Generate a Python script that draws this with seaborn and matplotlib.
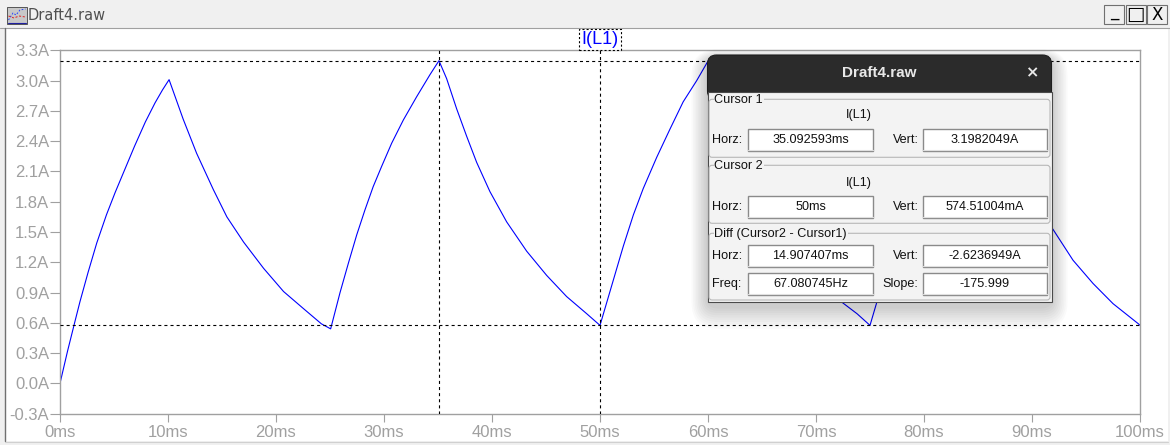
import matplotlib
matplotlib.use("Agg")
import matplotlib.pyplot as plt
import seaborn as sns
from matplotlib.patches import Rectangle, FancyBboxPatch
from matplotlib.lines import Line2D
from matplotlib.transforms import Affine2D

# ---------------- data ----------------
time_ms = [
    0.0, 0.7, 1.4, 1.85, 2.6, 3.4, 4.3, 5.1, 6.0, 6.9, 7.9, 8.8, 9.5, 10.1,
    11.4, 12.65, 14.2, 15.45, 17.0, 18.85, 20.7, 22.55, 24.2, 25.06,
    25.93, 26.7, 27.47, 28.24, 29.0, 29.78, 30.71, 31.79, 33.02, 34.26, 35.09,
    35.8, 36.73, 37.65, 38.58, 39.81, 41.36, 43.21, 45.06, 46.91, 48.77, 50.0,
    50.62, 51.39, 52.16, 53.09, 54.0, 55.25, 56.48, 57.7, 58.95, 60.03,
    60.8, 61.7, 62.6, 63.6, 64.8, 66.4, 68.2, 70.1, 72.2, 73.8, 75.0,
    75.62, 76.39, 77.16, 78.09, 79.0, 80.25, 81.48, 82.7, 83.95, 85.03,
    85.8, 86.7, 87.6, 88.6, 89.8, 91.8, 93.8, 95.65, 97.5, 99.85, 100.0,
]
current_A = [
    0.0, 0.32, 0.62, 0.81, 1.10, 1.39, 1.67, 1.89, 2.12, 2.35, 2.59, 2.78, 2.91, 3.01,
    2.62, 2.28, 1.92, 1.65, 1.40, 1.14, 0.91, 0.74, 0.59, 0.54,
    0.90, 1.19, 1.47, 1.72, 1.95, 2.15, 2.38, 2.61, 2.84, 3.06, 3.198,
    3.02, 2.72, 2.45, 2.19, 1.90, 1.60, 1.31, 1.07, 0.86, 0.69, 0.5745,
    0.80, 1.08, 1.36, 1.67, 1.93, 2.24, 2.52, 2.79, 3.00, 3.20,
    3.02, 2.72, 2.45, 2.19, 1.90, 1.60, 1.31, 1.07, 0.82, 0.69, 0.5745,
    0.80, 1.08, 1.36, 1.67, 1.93, 2.24, 2.52, 2.79, 3.00, 3.20,
    3.02, 2.72, 2.45, 2.19, 1.90, 1.55, 1.22, 0.99, 0.79, 0.59, 0.575,
]

x_ticks = [0, 10, 20, 30, 40, 50, 60, 70, 80, 90, 100]
x_tick_labels = ["0ms", "10ms", "20ms", "30ms", "40ms", "50ms", "60ms",
                 "70ms", "80ms", "90ms", "100ms"]
y_ticks = [-0.3, 0.0, 0.3, 0.6, 0.9, 1.2, 1.5, 1.8, 2.1, 2.4, 2.7, 3.0, 3.3]
y_tick_labels = ["-0.3A", "0.0A", "0.3A", "0.6A", "0.9A", "1.2A", "1.5A",
                 "1.8A", "2.1A", "2.4A", "2.7A", "3.0A", "3.3A"]

trace_name = "I(L1)"
window_title = "Draft4.raw"
cursor1_ms = 35.092593
cursor1_A = 3.1982049
cursor2_ms = 50.0
cursor2_A = 0.57451004
cursor1_text = ("35.092593ms", "3.1982049A")
cursor2_text = ("50ms", "574.51004mA")
diff_text = ("14.907407ms", "-2.6236949A")
freq_slope_text = ("67.080745Hz", "-175.999")

# ---------------- figure ----------------
W, H = 1170, 445
sns.set_style("white")
plt.rcParams["lines.scale_dashes"] = False
plt.rcParams["font.family"] = ["Liberation Sans", "DejaVu Sans"]

fig = plt.figure(figsize=(W / 100, H / 100), dpi=100)
fig.patch.set_facecolor("#f0f0f0")
PX = Affine2D().scale(1 / W, -1 / H).translate(0, 1) + fig.transFigure


def rect(x, y, w, h, z=0, **kw):
    p = Rectangle((x, y), w, h, transform=PX, zorder=z, **kw)
    fig.add_artist(p)
    return p


def rrect(x, y, w, h, r, z=0, **kw):
    p = FancyBboxPatch((x, y), w, h, boxstyle=f"round,pad=0,rounding_size={r}",
                       transform=PX, zorder=z, **kw)
    fig.add_artist(p)
    return p


def line(xs, ys, z=0, **kw):
    l = Line2D(xs, ys, transform=PX, zorder=z, **kw)
    fig.add_artist(l)
    return l


def txt(x, y, s, z=0, **kw):
    kw.setdefault("va", "center")
    return fig.text(x, y, s, transform=PX, zorder=z, **kw)


# window chrome
rect(0, 0, W, 27.5, z=-5, facecolor="#f0f0f0", edgecolor="none")
line([0, W], [27.5, 27.5], z=-4, color="#a0a0a0", lw=0.8)
rect(5, 28, 1163, 413, z=-5, facecolor="white", edgecolor="none")
line([4.7, 4.7], [28, 441], z=-4, color="#707070", lw=1.0)
line([5, 1168], [441.5, 441.5], z=-4, color="#d0d0d0", lw=0.8)
# window icon
rect(7, 7, 20, 17, z=-3, facecolor="#c8c8c8", edgecolor="#404040", lw=0.6)
line([8.5, 13, 16, 20, 25.5], [20, 13, 15, 10, 9], z=-2, color="#2040ff", lw=0.7, ls=(0, (1.2, 1.2)))
line([8.5, 14, 19, 25.5], [16, 18, 16, 17], z=-2, color="#e02020", lw=0.7, ls=(0, (1.5, 1.2)))
line([8, 26], [22.5, 22.5], z=-2, color="#2020a0", lw=0.8)
txt(28, 15.5, window_title, z=-2, ha="left", fontsize=10.5, color="#505050",
    family="DejaVu Sans")
# window buttons
for bx, glyph in [(1104, "_"), (1125.5, "\u25a1"), (1147, "X")]:
    rect(bx, 5, 20, 19, z=-3, facecolor="#f0f0f0", edgecolor="#707070", lw=0.8)
    txt(bx + 10, 14.5 if glyph != "_" else 10.5, glyph, z=-2, ha="center",
        fontsize=12 if glyph != "\u25a1" else 14, color="black", family="DejaVu Sans")

# ---------------- axes ----------------
ax_left, ax_right, ax_top, ax_bottom = 60, 1140, 50.4, 413.6
ax = fig.add_axes([ax_left / W, 1 - ax_bottom / H, (ax_right - ax_left) / W,
                   (ax_bottom - ax_top) / H], zorder=1)
ax.set_facecolor("white")

sns.lineplot(x=time_ms, y=current_A, ax=ax, color="#0000ff", linewidth=0.8,
             estimator=None, sort=False, legend=False)

dash = (0, (2.2, 2.2))
ax.axhline(cursor1_A, color="black", lw=0.8, ls=dash, zorder=3)
ax.axhline(cursor2_A, color="black", lw=0.8, ls=dash, zorder=3)
ax.axvline(cursor1_ms, color="black", lw=0.8, ls=dash, zorder=3)
ax.axvline(cursor2_ms, color="black", lw=0.8, ls=dash, zorder=3)

ax.set_xlim(0, 100)
ax.set_ylim(-0.3, 3.3)
ax.set_xticks(x_ticks)
ax.set_xticklabels(x_tick_labels)
ax.set_yticks(y_ticks)
ax.set_yticklabels(y_tick_labels)
ax.set_xlabel("")
ax.set_ylabel("")
for sp in ax.spines.values():
    sp.set_visible(True)
    sp.set_color("#a0a0a0")
    sp.set_linewidth(1.0)
ax.tick_params(axis="y", direction="out", length=7.2, width=0.8, color="#a0a0a0",
               labelcolor="#a0a0a0", labelsize=12, pad=0.5, left=True)
ax.tick_params(axis="x", direction="out", length=6, width=0.8, color="#a0a0a0",
               labelcolor="#a0a0a0", labelsize=12, pad=2, bottom=True)

# trace name above plot
txt(600, 39.5, trace_name, z=2, ha="center", fontsize=13, color="#0000ff",
    bbox=dict(boxstyle="square,pad=0.12", fc="white", ec="black", lw=0.8, ls=(0, (1.5, 1.5))))

# ---------------- cursor dialog ----------------
DX, DY, DW, DB = 707.5, 55, 344, 302.3
# shadow
for k in range(10):
    g = 16 - k * 1.6
    rrect(DX - g, DY - g * 0.6 + 4, DW + 2 * g, DB - DY + 2 * g, 10 + g, z=4,
          facecolor="black", edgecolor="none", alpha=0.02)
rrect(DX, DY, DW, 45, 9, z=5, facecolor="#2b2b2b", edgecolor="#1e1e1e", lw=0.8)
rect(DX, 91.7, DW, DB - 91.7, z=5, facecolor="#f3f3f3", edgecolor="#4a4a4a", lw=0.8)
txt(DX + DW / 2, 73.3, window_title, z=6, ha="center", fontsize=11,
    fontweight="bold", color="#e8e8e8")
txt(1032.7, 73.3, "\u00d7", z=6, ha="center", fontsize=11.5, fontweight="bold",
    color="#e8e8e8", family="DejaVu Sans")

FS = 9.1
TC = "#111111"


def group(y0, y1, label):
    rrect(709, y0, 341, y1 - y0, 3, z=6, facecolor="none", edgecolor="#b8b8b8", lw=0.8)
    txt(714.5, y0 + 1, label, z=7, ha="left", fontsize=FS, color=TC,
        bbox=dict(boxstyle="square,pad=0.05", fc="#f3f3f3", ec="none"))


def field(x, yc, w, s):
    rect(x, yc - 11, w, 22, z=6, facecolor="white", edgecolor="#8a8a8a", lw=1.0)
    line([x + 0.5, x + w], [yc + 10.6, yc + 10.6], z=6, color="#e0e0e0", lw=0.8)
    txt(x + w / 2, yc + 0.5, s, z=7, ha="center", fontsize=FS, color=TC)


def row(yc, l1, v1, l2, v2):
    txt(712, yc + 0.5, l1, z=7, ha="left", fontsize=FS, color=TC)
    field(747.7, yc, 125.6, v1)
    txt(918.5, yc + 0.5, l2, z=7, ha="right", fontsize=FS, color=TC)
    field(922.7, yc, 124, v2)


group(99.3, 157.3, "Cursor 1")
txt(859, 115, trace_name, z=7, ha="center", fontsize=FS, color=TC)
row(139.7, "Horz:", cursor1_text[0], "Vert:", cursor1_text[1])

group(165.3, 223.3, "Cursor 2")
txt(859, 182.7, trace_name, z=7, ha="center", fontsize=FS, color=TC)
row(206.5, "Horz:", cursor2_text[0], "Vert:", cursor2_text[1])

group(233.3, 300, "Diff (Cursor2 - Cursor1)")
row(255.5, "Horz:", diff_text[0], "Vert:", diff_text[1])
row(283.5, "Freq:", freq_slope_text[0], "Slope:", freq_slope_text[1])

fig.savefig("out.png", dpi=100, facecolor=fig.get_facecolor())
